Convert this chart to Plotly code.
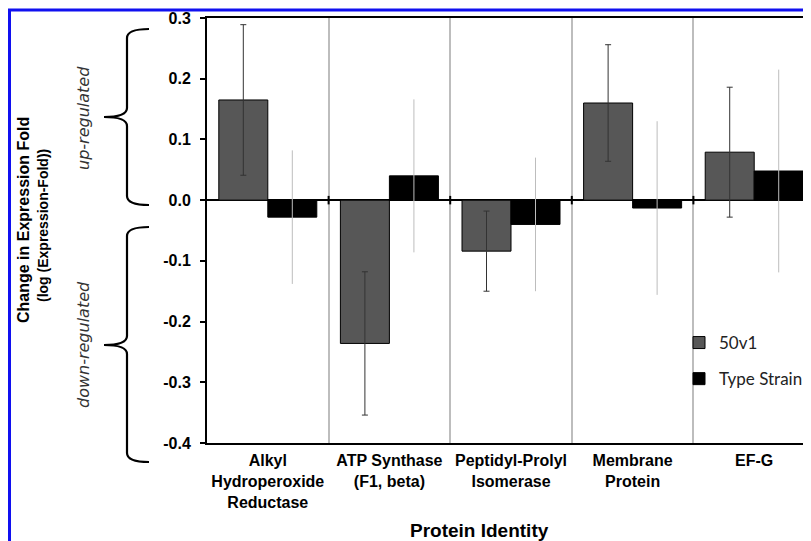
import plotly.graph_objects as go

# ---------------- data ----------------
categories = [
    "Alkyl<br>Hydroperoxide<br>Reductase",
    "ATP Synthase<br>(F1, beta)",
    "Peptidyl-Prolyl<br>Isomerase",
    "Membrane<br>Protein",
    "EF-G",
]
series_names = ["50v1", "Type Strain"]
values_50v1 = [0.165, -0.236, -0.084, 0.160, 0.079]
errors_50v1 = [0.124, 0.118, 0.066, 0.096, 0.107]
values_type = [-0.028, 0.040, -0.040, -0.013, 0.048]
errors_type = [0.110, 0.126, 0.110, 0.143, 0.167]
y_tick_vals = [0.3, 0.2, 0.1, 0.0, -0.1, -0.2, -0.3, -0.4]
y_tick_text = [f"{v:.1f}" for v in y_tick_vals]

# ---------------- layout geometry ----------------
OFF = 8                      # page body margin in the browser
FIG_W, FIG_H = 811 - OFF, 541 - OFF
L, T, W, H = 207, 18, 604, 425   # plot area in reference (window) pixels
LF, TF = L - OFF, T - OFF


def px(x):
    return (x - L) / W


def py(y):
    return (T + H - y) / H


AX_FONT = "Liberation Sans, Arial, sans-serif"

fig = go.Figure()
fig.add_trace(go.Bar(
    name=series_names[0], x=categories, y=values_50v1,
    marker=dict(color="#575757", line=dict(color="#000000", width=1)),
    error_y=dict(type="data", array=errors_50v1, color="#333333", thickness=1, width=3),
    legendgroup="a",
))
fig.add_trace(go.Bar(
    name=series_names[1], x=categories, y=values_type,
    marker=dict(color="#000000", line=dict(color="#000000", width=1)),
    error_y=dict(type="data", array=errors_type, color="#bdbdbd", thickness=1, width=0),
    legendgroup="b",
))


def brace(top, tip, bot):
    xe, xs, xt = 149, 127, 104
    r = 9
    return (f"M {px(xe)},{py(top)} Q {px(xs)},{py(top)} {px(xs)},{py(top + r)} "
            f"L {px(xs)},{py(tip - r)} Q {px(xs)},{py(tip)} {px(xt)},{py(tip)} "
            f"Q {px(xs)},{py(tip)} {px(xs)},{py(tip + r)} "
            f"L {px(xs)},{py(bot - r)} Q {px(xs)},{py(bot)} {px(xe)},{py(bot)}")


shapes = [
    dict(type="path", xref="paper", yref="paper", path=brace(29, 117, 205),
         line=dict(color="#000000", width=2.2)),
    dict(type="path", xref="paper", yref="paper", path=brace(227, 345, 462),
         line=dict(color="#000000", width=2.2)),
    # blue frame (left and top)
    dict(type="path", xref="paper", yref="paper",
         path=f"M {px(9.5)},{py(545)} L {px(9.5)},{py(10)} L {px(815)},{py(10)}",
         line=dict(color="#1010f0", width=3)),
]
# small black marks at zero on category boundaries
for i in range(len(categories) - 1):
    shapes.append(dict(type="line", xref="x", yref="y", x0=i + 0.5, x1=i + 0.5,
                       y0=-0.007, y1=0.007, line=dict(color="#000000", width=2)))

annotations = [
    dict(text="Change in Expression Fold", x=px(23), y=py(220), xref="paper", yref="paper",
         textangle=-90, showarrow=False, xanchor="center", yanchor="middle",
         font=dict(family=AX_FONT, size=16, color="#000000", weight="bold")),
    dict(text="(log (Expression-Fold))", x=px(43), y=py(226), xref="paper", yref="paper",
         textangle=-90, showarrow=False, xanchor="center", yanchor="middle",
         font=dict(family=AX_FONT, size=14, color="#000000", weight="bold")),
    dict(text="up-regulated", x=px(83), y=py(118), xref="paper", yref="paper",
         textangle=-90, showarrow=False, xanchor="center", yanchor="middle",
         font=dict(family="DejaVu Sans", size=16, color="#333333", style="italic")),
    dict(text="down-regulated", x=px(83), y=py(345), xref="paper", yref="paper",
         textangle=-90, showarrow=False, xanchor="center", yanchor="middle",
         font=dict(family="DejaVu Sans", size=16, color="#333333", style="italic")),
    dict(text="Protein Identity", x=px(479), y=py(530), xref="paper", yref="paper",
         showarrow=False, xanchor="center", yanchor="middle",
         font=dict(family=AX_FONT, size=19, color="#000000", weight="bold")),
]

fig.update_layout(
    width=FIG_W, height=FIG_H,
    margin=dict(l=LF, t=TF, r=max(FIG_W - LF - W, 0), b=FIG_H - TF - H, pad=0),
    paper_bgcolor="#ffffff", plot_bgcolor="#ffffff",
    barmode="group", bargap=0.194, bargroupgap=0,
    showlegend=True,
    legend=dict(x=px(679), y=py(325), xanchor="left", yanchor="top",
                traceorder="grouped", tracegroupgap=11,
                font=dict(family="Lato, sans-serif", size=17, color="#222222"),
                bgcolor="rgba(0,0,0,0)", itemwidth=30),
    xaxis=dict(type="category", range=[-0.5, 4.467], tickson="boundaries",
               showgrid=True, gridcolor="#bdbdbd", gridwidth=1.5,
               showline=True, linecolor="#000000", linewidth=2, mirror=True,
               ticks="", tickfont=dict(family=AX_FONT, size=16, color="#000000", weight="bold"),
               ticklabelstandoff=2, zeroline=False),
    yaxis=dict(range=[-0.4, 0.3], tickvals=y_tick_vals, ticktext=y_tick_text,
               showgrid=False, zeroline=True, zerolinecolor="#000000", zerolinewidth=1.5,
               showline=True, linecolor="#000000", linewidth=2,
               ticks="outside", ticklen=5, tickwidth=2, tickcolor="#000000",
               tickfont=dict(family=AX_FONT, size=16, color="#000000", weight="bold"),
               ticklabelstandoff=6),
    shapes=shapes,
    annotations=annotations,
)

fig.write_html("out.html")
